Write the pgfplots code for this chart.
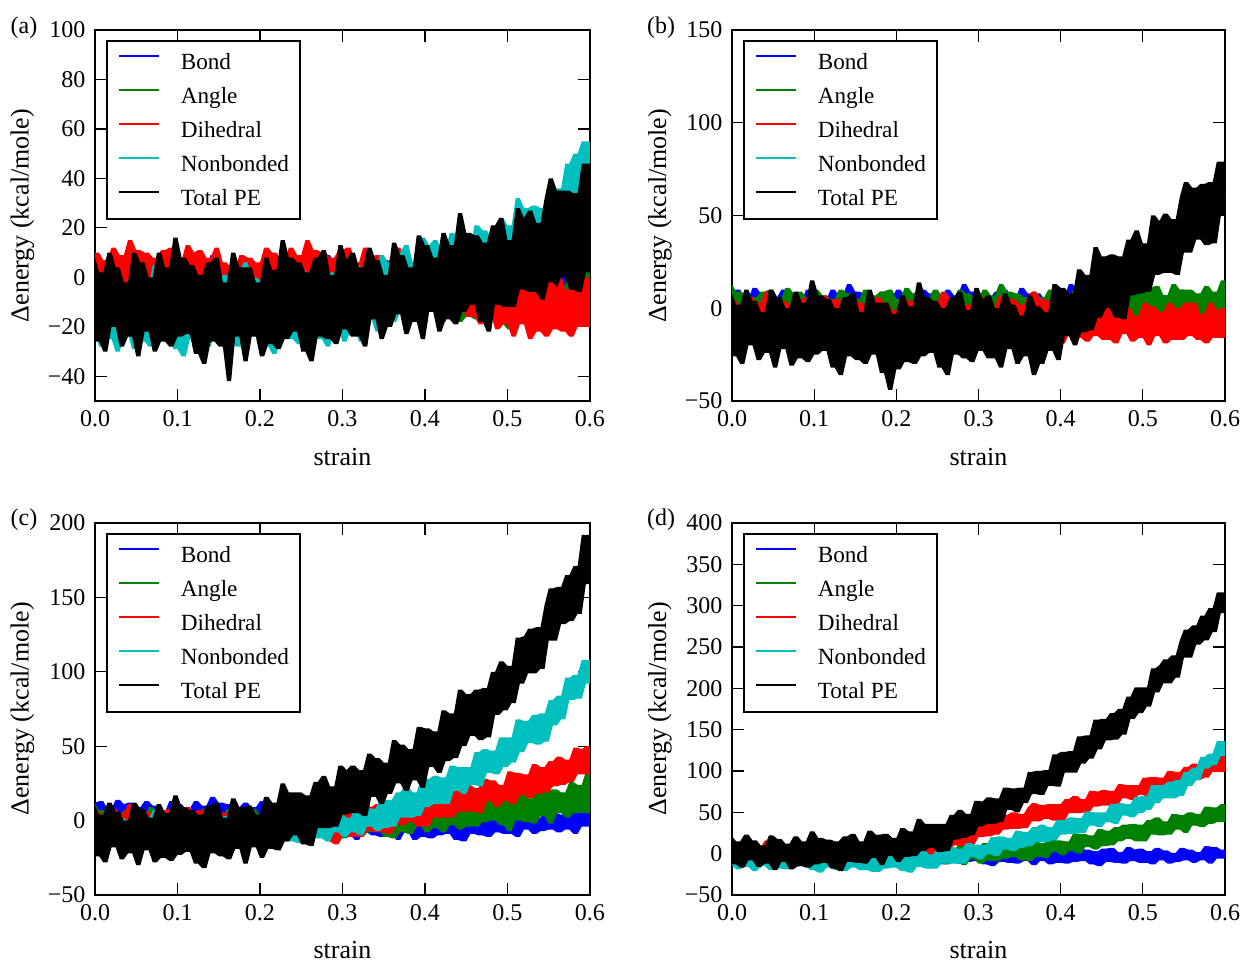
\documentclass[border=0pt]{standalone}
\usepackage{fontspec}
\setmainfont{Liberation Serif}
\usepackage{pgfplots}
\usepackage{pgfplotstable}
\usepgfplotslibrary{fillbetween}
\pgfplotsset{compat=1.18}
\definecolor{mB}{rgb}{0,0,1}
\definecolor{mG}{rgb}{0,0.5,0}
\definecolor{mR}{rgb}{1,0,0}
\definecolor{mC}{rgb}{0,0.75,0.75}
\newcommand{\fsT}{\fontsize{12}{14}\selectfont}
\newcommand{\fsL}{\fontsize{13}{15}\selectfont}
\newcommand{\fsG}{\fontsize{11.6}{13.5}\selectfont}

% each series: lower (l) and upper (h) edge of its noisy trace
\pgfplotstableread{
s Bl Bh Al Ah Dl Dh Nl Nh Tl Th
0.000 -9 5 -12 8 -9 10 -22 -4 -26 8
0.005 -9 6 -12 4 -4 10 -28 -4 -26 2
0.010 -10 6 -11 4 -4 7 -28 -8 -30 2
0.015 -10 2 -11 3 -8 7 -25 -8 -30 10
0.020 -11 2 -15 3 -8 12 -25 1 -20 10
0.025 -11 7 -15 1 -6 12 -30 1 -20 4
0.030 -8 7 -17 1 -6 9 -30 -2 -28 4
0.035 -8 4 -17 4 -7 9 -23 -2 -28 -2
0.040 -8 5 -12 4 -7 15 -23 -7 -24 -2
0.045 -10 5 -12 5 -5 15 -29 -7 -24 10
0.050 -10 2 -13 5 -5 11 -29 1 -32 10
0.055 -12 2 -13 0 -4 11 -26 1 -32 6
0.060 -12 6 -14 0 -4 10 -26 -4 -22 6
0.065 -8 6 -14 6 -8 10 -28 -4 -22 0
0.070 -8 3 -11 6 -8 8 -28 5 -30 0
0.075 -11 3 -11 3 -10 8 -25 5 -30 10
0.080 -11 1 -11 4 -10 11 -25 -1 -26 10
0.085 -9 1 -13 4 -5 11 -23 -1 -26 4
0.090 -9 6 -13 1 -5 12 -23 -2 -28 4
0.095 -13 6 -15 1 -6 12 -29 -2 -28 16
0.100 -13 4 -15 5 -6 7 -29 -5 -24 16
0.105 -8 4 -10 5 -7 7 -32 -5 -24 8
0.110 -8 2 -10 2 -7 13 -32 -1 -23 8
0.115 -12 2 -14 2 -4 13 -25 -1 -23 5
0.120 -12 6 -14 -1 -4 10 -25 1 -31 5
0.125 -10 6 -12 -1 -6 11 -26 1 -31 1
0.130 -10 3 -12 5 -6 11 -26 -7 -35 1
0.135 -11 3 -16 5 -6 8 -28 -7 -35 6
0.140 -11 9 -16 3 -8 8 -28 3 -26 6
0.145 -9 9 -11 3 -8 12 -23 3 -26 8
0.150 -9 5 -11 0 -4 12 -23 -1 -28 8
0.155 -8 5 -15 0 -4 6 -23 1 -28 -2
0.160 -8 4 -15 5 -10 6 -25 1 -42 -2
0.165 -12 4 -13 5 -10 3 -25 -4 -42 10
0.170 -12 2 -13 2 -8 3 -28 -4 -24 10
0.175 -14 2 -14 2 -8 9 -28 2 -24 4
0.180 -14 5 -14 4 -4 9 -28 6 -34 4
0.185 -10 5 -12 4 -4 8 -24 6 -34 4
0.190 -10 2 -12 5 -8 8 -24 0 -24 4
0.195 -12 2 -13 5 -8 6 -22 0 -24 -2
0.200 -12 6 -13 0 -5 6 -22 -1 -32 -2
0.205 -8 6 -14 0 -5 12 -28 -1 -32 8
0.210 -8 3 -14 6 -9 12 -28 -4 -27 8
0.215 -11 3 -11 6 -9 10 -31 -4 -27 3
0.220 -11 1 -11 3 -4 10 -31 0 -29 3
0.225 -9 1 -11 4 -4 7 -24 0 -29 15
0.230 -9 6 -13 4 -8 7 -24 2 -25 15
0.235 -13 6 -13 1 -8 12 -25 2 -25 8
0.240 -13 4 -15 1 -6 12 -25 -6 -22 8
0.245 -8 4 -15 5 -6 9 -27 -6 -22 6
0.250 -8 2 -10 5 -7 9 -27 3 -30 6
0.255 -12 2 -10 2 -7 15 -22 3 -30 2
0.260 -12 6 -14 2 -5 15 -22 -1 -34 2
0.265 -10 6 -14 -1 -5 11 -22 0 -34 8
0.270 -10 3 -12 -1 -4 11 -25 0 -24 8
0.275 -11 3 -12 5 -4 10 -25 -4 -24 11
0.280 -11 9 -16 5 -8 10 -28 -4 -25 11
0.285 -9 9 -16 3 -8 8 -28 2 -25 1
0.290 -9 5 -11 3 -10 8 -21 2 -27 1
0.295 -8 5 -11 0 -10 11 -21 -3 -27 13
0.300 -8 4 -15 0 -5 11 -26 -3 -21 13
0.305 -12 4 -15 5 -5 12 -26 -6 -21 7
0.310 -12 2 -13 5 -7 12 -21 -6 -24 10
0.315 -14 2 -13 2 -7 6 -21 5 -24 10
0.320 -14 5 -14 2 -8 6 -26 5 -24 4
0.325 -9 5 -14 8 -8 12 -26 3 -28 4
0.330 -9 6 -12 8 -5 12 -17 3 -28 12
0.335 -10 6 -12 4 -5 8 -17 0 -17 12
0.340 -10 2 -11 4 -8 9 -22 0 -17 7
0.345 -11 2 -11 3 -8 9 -22 9 -25 7
0.350 -11 7 -15 3 -8 6 -17 9 -25 1
0.355 -8 7 -15 1 -10 6 -17 6 -20 1
0.360 -8 4 -17 1 -10 9 -18 6 -20 14
0.365 -13 4 -17 4 -8 12 -18 10 -15 14
0.370 -13 4 -13 4 -8 12 -14 10 -15 9
0.375 -8 4 -13 1 -8 8 -14 13 -23 9
0.380 -8 2 -15 1 -7 8 -14 13 -23 4
0.385 -12 2 -15 5 -7 6 -14 6 -18 4
0.390 -12 6 -10 5 -12 6 -14 6 -18 17
0.395 -10 6 -10 2 -12 4 -14 16 -25 17
0.400 -10 3 -14 2 -14 4 -8 16 -25 13
0.405 -11 3 -14 -2 -14 6 -8 13 -14 13
0.410 -11 9 -13 -2 -10 6 -10 15 -14 8
0.415 -9 9 -13 4 -10 6 -10 15 -22 8
0.420 -9 5 -18 4 -12 6 -10 11 -22 18
0.425 -8 5 -18 1 -12 1 -12 11 -17 18
0.430 -8 4 -13 1 -14 1 -12 18 -17 13
0.435 -12 4 -13 -2 -14 6 -4 18 -19 13
0.440 -12 2 -18 -2 -12 6 -4 15 -19 26
0.445 -14 2 -18 2 -12 3 -8 15 -14 26
0.450 -14 5 -16 2 -16 3 -8 11 -14 18
0.455 -9 5 -16 -1 -16 3 -4 11 -11 18
0.460 -9 6 -17 -1 -16 -1 -4 21 -11 17
0.465 -10 6 -17 5 -19 -1 -10 21 -18 17
0.470 -10 2 -16 5 -19 2 -10 19 -18 14
0.475 -11 2 -16 0 -15 2 -1 19 -22 14
0.480 -11 7 -15 0 -15 -1 -1 16 -22 21
0.485 -8 7 -15 -1 -21 -1 -6 16 -11 21
0.490 -8 4 -19 -1 -21 -6 -6 24 -11 24
0.495 -8 5 -19 -3 -19 -6 -2 24 -12 24
0.500 -10 5 -21 -3 -19 1 -2 21 -12 15
0.505 -10 3 -21 0 -24 1 -2 21 -12 15
0.510 -11 3 -16 0 -24 -2 -2 32 -12 28
0.515 -11 7 -16 1 -19 -2 3 32 -5 28
0.520 -6 7 -16 1 -19 -5 3 28 -5 24
0.525 -6 4 -16 -3 -25 -5 7 28 -6 27
0.530 -10 4 -17 -3 -25 1 7 29 -6 27
0.535 -10 2 -17 3 -22 1 3 29 -6 22
0.540 -8 2 -14 3 -22 -3 3 28 -9 22
0.545 -8 8 -14 0 -24 -3 2 28 -9 32
0.550 -5 8 -19 0 -24 0 2 36 -2 40
0.555 -5 6 -19 0 -21 0 12 36 -2 40
0.560 -9 6 -14 0 -21 1 12 36 -4 35
0.565 -9 3 -14 -3 -22 1 13 36 0 35
0.570 -7 3 -18 -3 -22 -5 13 46 0 35
0.575 -7 9 -18 2 -24 -5 25 46 -5 35
0.580 -10 9 -16 2 -24 2 25 50 -5 34
0.585 -10 7 -16 -1 -20 2 23 50 -6 34
0.590 -5 7 -17 -1 -20 -2 23 55 -6 46
0.595 -5 4 -17 5 -20 0 31 55 2 46
0.600 -5 4 -17 5 -20 0 31 55 2 46
}\dA

\pgfplotstableread{
s Bl Bh Al Ah Dl Dh Nl Nh Tl Th
0.000 -7 9 -5 13 -17 4 -13 -6 -26 8
0.005 -7 10 -5 9 -12 4 -15 -6 -26 2
0.010 -8 10 -4 9 -12 1 -15 -8 -30 2
0.015 -8 5 -4 8 -16 1 -14 -8 -30 10
0.020 -9 5 -8 8 -16 6 -14 -4 -20 10
0.025 -9 11 -8 6 -14 6 -17 -4 -20 4
0.030 -6 11 -10 6 -14 3 -17 -5 -28 4
0.035 -6 8 -10 9 -15 3 -14 -5 -28 -2
0.040 -8 9 -5 9 -15 9 -14 -7 -24 -2
0.045 -8 9 -5 10 -13 9 -16 -7 -24 10
0.050 -8 6 -6 10 -13 5 -16 -4 -32 10
0.055 -10 6 -6 5 -12 5 -15 -4 -32 6
0.060 -10 10 -7 5 -12 4 -15 -6 -22 6
0.065 -5 10 -7 11 -16 4 -15 -6 -22 0
0.070 -5 7 -4 11 -16 2 -15 -3 -31 0
0.075 -9 7 -4 8 -18 2 -15 -3 -31 9
0.080 -9 4 -6 9 -18 5 -15 -6 -27 9
0.085 -7 4 -6 9 -13 5 -15 -6 -27 3
0.090 -7 10 -6 6 -13 6 -15 -6 -29 3
0.095 -11 10 -8 6 -14 6 -17 -6 -29 15
0.100 -11 8 -8 10 -14 1 -17 -7 -25 15
0.105 -6 8 -3 10 -15 1 -18 -7 -25 7
0.110 -6 5 -3 7 -15 7 -18 -6 -23 7
0.115 -10 5 -7 7 -12 7 -15 -6 -23 5
0.120 -10 10 -7 5 -12 4 -15 -6 -32 5
0.125 -8 10 -5 5 -14 5 -17 -6 -32 0
0.130 -8 7 -5 10 -14 5 -17 -9 -36 0
0.135 -9 7 -9 10 -14 2 -17 -9 -36 6
0.140 -9 13 -9 8 -16 2 -17 -5 -26 6
0.145 -7 13 -4 8 -16 6 -16 -5 -26 8
0.150 -7 9 -4 5 -11 6 -16 -7 -28 8
0.155 -6 9 -8 5 -11 3 -17 -7 -28 -2
0.160 -6 8 -8 10 -15 3 -17 -7 -30 -2
0.165 -10 8 -6 10 -15 -1 -17 -8 -30 10
0.170 -10 6 -6 7 -13 -1 -19 -8 -25 10
0.175 -12 6 -7 7 -13 6 -19 -7 -25 3
0.180 -12 9 -7 9 -11 6 -17 -5 -35 3
0.185 -8 9 -5 9 -11 3 -17 -5 -35 3
0.190 -8 6 -5 10 -15 3 -17 -8 -44 3
0.195 -10 6 -6 10 -15 -1 -17 -8 -44 -3
0.200 -10 10 -6 5 -13 -1 -17 -8 -33 -3
0.205 -5 10 -7 5 -13 6 -19 -8 -33 7
0.210 -5 7 -7 11 -17 6 -19 -9 -29 7
0.215 -9 7 -4 11 -17 4 -20 -9 -29 1
0.220 -9 4 -4 8 -12 4 -20 -7 -30 1
0.225 -7 4 -6 9 -12 1 -16 -7 -30 14
0.230 -7 10 -6 9 -16 1 -16 -6 -26 14
0.235 -11 10 -6 6 -16 6 -17 -6 -26 6
0.240 -11 8 -8 6 -14 6 -17 -9 -24 6
0.245 -6 8 -8 10 -14 3 -17 -9 -24 4
0.250 -6 5 -3 10 -15 3 -17 -5 -32 4
0.255 -10 5 -3 7 -15 9 -16 -5 -32 0
0.260 -10 10 -7 7 -13 9 -16 -7 -36 0
0.265 -8 10 -7 5 -13 5 -16 -7 -36 6
0.270 -8 7 -5 5 -12 5 -16 -7 -25 6
0.275 -9 7 -5 10 -12 4 -17 -7 -25 9
0.280 -9 13 -9 10 -16 4 -17 -7 -27 9
0.285 -7 13 -9 8 -16 2 -17 -5 -27 -1
0.290 -7 9 -4 8 -18 2 -14 -5 -29 -1
0.295 -6 9 -4 5 -18 5 -14 -7 -29 11
0.300 -6 8 -8 5 -13 5 -16 -7 -23 11
0.305 -10 8 -8 10 -13 6 -16 -9 -23 5
0.310 -10 6 -6 10 -14 6 -15 -9 -27 7
0.315 -12 6 -6 7 -14 1 -15 -5 -27 7
0.320 -12 9 -7 7 -15 1 -19 -5 -27 0
0.325 -7 9 -7 13 -15 7 -19 -7 -32 0
0.330 -7 10 -5 13 -12 7 -16 -7 -32 8
0.335 -8 10 -5 9 -12 4 -16 -9 -22 8
0.340 -8 5 -4 9 -14 5 -18 -9 -22 2
0.345 -9 5 -4 8 -14 5 -18 -6 -30 2
0.350 -9 11 -8 8 -14 2 -17 -6 -30 -4
0.355 -6 11 -8 6 -16 2 -17 -8 -26 -4
0.360 -6 8 -10 6 -16 6 -18 -8 -26 7
0.365 -11 8 -10 9 -13 9 -18 -8 -36 7
0.370 -11 8 -6 9 -13 9 -17 -8 -36 1
0.375 -6 8 -6 6 -13 5 -17 -6 -30 1
0.380 -6 5 -8 6 -12 5 -15 -6 -30 -2
0.385 -10 5 -8 10 -12 4 -15 -6 -23 -2
0.390 -10 10 -4 10 -16 4 -12 -6 -23 13
0.395 -8 10 -4 7 -16 2 -12 1 -28 13
0.400 -8 7 -7 7 -19 2 -9 1 -28 11
0.405 -9 7 -7 5 -19 4 -9 2 -15 11
0.410 -9 13 -5 5 -14 4 -5 3 -15 8
0.415 -7 13 -5 10 -14 4 -5 3 -20 8
0.420 -7 9 -9 10 -16 4 -5 5 -20 21
0.425 -6 9 -9 8 -16 -1 -3 5 -13 21
0.430 -6 8 -4 8 -18 -1 -3 10 -13 18
0.435 -10 8 -4 5 -18 4 3 10 -12 18
0.440 -10 6 -8 5 -15 4 3 11 -12 33
0.445 -12 6 -8 10 -15 1 4 11 -5 33
0.450 -12 9 -6 10 -17 2 4 12 -5 28
0.455 -7 9 -6 8 -17 2 8 12 0 28
0.460 -7 10 -6 8 -17 -1 8 19 0 29
0.465 -8 10 -6 14 -19 -1 8 19 -5 29
0.470 -8 5 -4 14 -19 3 8 21 -5 28
0.475 -9 5 -4 10 -14 3 14 21 -6 28
0.480 -9 11 -3 10 -14 0 14 22 -6 37
0.485 -6 11 -3 10 -18 0 15 22 7 37
0.490 -6 8 -6 10 -18 -4 15 28 7 42
0.495 -8 9 -6 8 -16 -4 19 28 8 42
0.500 -8 9 -8 8 -16 3 19 29 8 35
0.505 -8 6 -8 11 -20 3 22 29 9 35
0.510 -10 6 -3 11 -20 1 22 36 9 50
0.515 -10 10 -3 12 -15 1 26 36 18 50
0.520 -5 10 -4 12 -15 -2 26 36 18 47
0.525 -5 7 -4 7 -19 -2 29 36 19 51
0.530 -9 7 -5 7 -19 3 29 40 19 51
0.535 -9 4 -5 13 -17 3 30 40 19 48
0.540 -7 4 -2 13 -17 0 30 42 18 48
0.545 -7 10 -2 10 -17 0 33 42 18 60
0.550 -5 10 -7 10 -17 3 33 47 30 68
0.555 -5 7 -7 10 -15 3 39 47 30 68
0.560 -9 7 -2 10 -15 3 39 51 30 65
0.565 -9 4 -2 8 -17 3 43 51 37 65
0.570 -7 4 -6 8 -17 -3 43 57 37 67
0.575 -7 10 -6 12 -19 -3 51 57 34 67
0.580 -11 10 -4 12 -19 3 51 60 34 68
0.585 -11 8 -4 9 -16 3 54 60 35 68
0.590 -6 8 -5 9 -16 -1 54 63 35 79
0.595 -6 5 -5 15 -16 0 60 63 50 79
0.600 -6 5 -5 15 -16 0 60 63 50 79
}\dB

\pgfplotstableread{
s Bl Bh Al Ah Dl Dh Nl Nh Tl Th
0.000 -6 12 -9 11 -15 6 -11 1 -24 10
0.005 -6 13 -9 7 -10 6 -15 1 -24 4
0.010 -7 13 -8 7 -10 3 -15 -2 -28 4
0.015 -7 8 -8 6 -14 3 -13 -2 -28 12
0.020 -8 8 -12 6 -14 8 -13 4 -18 12
0.025 -8 14 -12 4 -12 8 -17 4 -18 6
0.030 -5 14 -14 4 -12 5 -17 2 -26 6
0.035 -5 11 -14 7 -13 5 -12 2 -26 0
0.040 -7 12 -9 7 -13 11 -12 -1 -22 0
0.045 -7 12 -9 8 -11 11 -16 -1 -22 12
0.050 -7 9 -10 8 -11 7 -16 4 -30 12
0.055 -9 9 -10 3 -10 7 -14 4 -30 8
0.060 -9 13 -11 3 -10 6 -14 1 -20 8
0.065 -4 13 -11 9 -14 6 -15 1 -20 2
0.070 -4 10 -8 9 -14 4 -15 7 -28 2
0.075 -8 10 -8 6 -16 4 -13 7 -28 11
0.080 -8 6 -8 7 -16 7 -13 3 -25 11
0.085 -6 6 -10 7 -11 7 -12 3 -25 5
0.090 -6 13 -10 4 -11 8 -12 2 -27 5
0.095 -10 13 -12 4 -12 8 -16 2 -27 17
0.100 -10 11 -12 8 -12 3 -16 0 -23 17
0.105 -5 11 -7 8 -13 3 -18 0 -23 9
0.110 -5 8 -7 5 -13 9 -18 3 -21 9
0.115 -9 8 -11 5 -10 9 -13 3 -21 7
0.120 -9 13 -11 2 -10 6 -13 4 -29 7
0.125 -7 13 -9 2 -12 7 -14 4 -29 4
0.130 -7 10 -9 8 -12 7 -14 -1 -32 4
0.135 -8 10 -13 8 -12 4 -15 -1 -32 10
0.140 -8 16 -13 6 -14 4 -15 5 -22 10
0.145 -6 16 -8 6 -14 8 -12 5 -22 12
0.150 -6 12 -8 3 -9 8 -12 2 -24 12
0.155 -5 12 -12 3 -9 5 -14 3 -24 2
0.160 -5 11 -12 8 -13 5 -14 3 -26 2
0.165 -9 11 -10 8 -13 1 -14 0 -26 15
0.170 -9 9 -10 5 -11 1 -16 0 -19 15
0.175 -11 9 -11 5 -11 8 -16 4 -19 9
0.180 -11 12 -11 7 -9 8 -16 7 -29 9
0.185 -7 12 -9 7 -9 5 -13 7 -29 10
0.190 -7 9 -9 8 -13 5 -13 3 -18 10
0.195 -9 9 -10 8 -13 1 -12 3 -18 4
0.200 -9 13 -10 3 -11 1 -12 2 -25 4
0.205 -4 13 -11 3 -11 8 -16 2 -25 16
0.210 -4 10 -11 9 -15 8 -16 0 -19 16
0.215 -8 10 -8 9 -15 6 -18 0 -19 12
0.220 -8 6 -8 6 -10 6 -18 3 -20 12
0.225 -6 6 -8 7 -10 3 -13 3 -20 25
0.230 -6 13 -10 7 -14 3 -13 4 -14 25
0.235 -10 13 -10 4 -14 8 -14 4 -14 19
0.240 -10 11 -12 4 -12 8 -14 -1 -10 19
0.245 -5 11 -12 8 -12 5 -15 -1 -10 19
0.250 -5 6 -7 8 -13 5 -15 5 -16 19
0.255 -8 6 -7 5 -13 11 -11 5 -16 17
0.260 -8 10 -11 5 -11 11 -11 3 -17 17
0.265 -6 10 -11 2 -11 7 -12 4 -17 26
0.270 -6 6 -9 2 -10 7 -12 4 -5 26
0.275 -8 6 -9 8 -10 6 -12 2 -5 30
0.280 -8 12 -13 8 -14 6 -14 2 -5 30
0.285 -7 12 -13 6 -14 4 -14 7 -5 23
0.290 -7 7 -8 6 -16 4 -8 7 -4 23
0.295 -6 7 -8 3 -16 7 -8 4 -4 37
0.300 -6 6 -12 3 -11 7 -11 4 4 37
0.305 -10 6 -12 8 -11 9 -11 2 4 34
0.310 -10 3 -10 8 -11 9 -8 2 5 37
0.315 -13 3 -10 5 -11 5 -8 10 5 37
0.320 -13 6 -11 5 -11 5 -10 10 5 34
0.325 -8 6 -11 11 -11 11 -10 9 3 34
0.330 -8 7 -8 11 -7 11 -4 9 3 45
0.335 -10 7 -8 8 -7 9 -4 8 16 45
0.340 -10 2 -7 8 -8 11 -7 8 16 42
0.345 -11 2 -7 7 -8 11 -7 14 11 42
0.350 -11 7 -11 7 -8 9 -5 14 11 39
0.355 -8 7 -11 5 -9 9 -5 14 18 39
0.360 -8 4 -12 5 -9 14 -4 14 18 54
0.365 -13 4 -12 9 -3 18 -4 19 25 54
0.370 -13 4 -8 9 -3 18 2 19 25 51
0.375 -8 4 -8 6 -3 15 2 23 20 51
0.380 -8 0 -9 6 -1 15 2 23 20 48
0.385 -13 0 -9 11 -1 16 2 19 27 48
0.390 -13 5 -4 11 -4 16 3 19 27 63
0.395 -11 5 -4 8 -4 15 3 28 22 63
0.400 -11 2 -8 8 -4 15 9 28 22 62
0.405 -12 2 -8 6 -4 19 9 28 36 62
0.410 -12 8 -5 6 2 19 11 30 36 60
0.415 -10 8 -5 12 2 21 11 30 32 60
0.420 -10 4 -8 12 2 21 11 29 32 74
0.425 -9 4 -8 11 2 17 11 29 40 74
0.430 -9 4 -3 11 2 17 11 37 40 72
0.435 -13 4 -3 8 2 24 20 37 42 72
0.440 -13 2 -6 8 6 24 20 36 42 88
0.445 -14 2 -6 14 6 22 18 36 50 88
0.450 -14 5 -4 14 6 24 18 36 50 85
0.455 -9 5 -4 12 6 24 24 36 57 85
0.460 -9 6 -4 12 6 22 24 46 57 88
0.465 -10 6 -4 14 5 22 23 46 54 88
0.470 -10 2 -1 14 5 28 23 48 54 89
0.475 -11 2 -1 15 13 28 32 48 56 89
0.480 -11 7 0 15 13 27 32 47 56 100
0.485 -8 7 0 14 9 27 31 47 71 100
0.490 -8 5 -3 14 9 24 31 56 71 107
0.495 -9 6 -3 13 13 24 36 56 74 107
0.500 -9 6 -7 13 13 33 36 56 74 104
0.505 -9 3 -7 17 11 33 39 56 79 104
0.510 -11 3 0 17 11 32 39 68 79 123
0.515 -11 7 0 20 17 32 46 68 92 123
0.520 -6 7 -1 20 17 31 46 67 92 124
0.525 -6 5 -1 15 15 31 52 67 99 129
0.530 -9 5 -2 15 15 38 52 71 99 129
0.535 -9 2 -2 22 18 38 51 71 99 130
0.540 -7 2 3 22 18 36 51 72 102 130
0.545 -7 8 3 20 19 36 53 72 102 145
0.550 -6 8 -2 20 19 40 53 81 121 156
0.555 -6 5 -2 21 23 40 64 81 121 156
0.560 -8 5 5 21 23 43 64 84 121 157
0.565 -8 4 5 19 24 43 68 84 132 157
0.570 -6 4 2 19 24 41 68 96 132 165
0.575 -6 9 2 26 26 41 81 96 134 165
0.580 -9 9 5 26 26 49 81 98 134 171
0.585 -9 8 5 24 31 49 82 98 139 171
0.590 -4 8 5 24 31 48 82 108 139 192
0.595 -4 6 5 33 31 50 92 108 159 192
0.600 -4 6 5 33 31 50 92 108 159 192
}\dC

\pgfplotstableread{
s Bl Bh Al Ah Dl Dh Nl Nh Tl Th
0.000 -10 6 -11 13 -13 10 -14 0 -13 21
0.005 -10 7 -11 8 -7 10 -19 0 -13 15
0.010 -11 7 -10 8 -7 6 -19 -3 -17 15
0.015 -11 2 -10 7 -12 6 -16 -3 -17 23
0.020 -12 2 -15 7 -12 12 -16 4 -8 23
0.025 -12 8 -15 4 -10 12 -21 4 -8 16
0.030 -9 8 -17 4 -10 8 -21 2 -16 16
0.035 -9 5 -17 8 -11 8 -15 2 -16 10
0.040 -11 6 -11 8 -11 16 -15 -2 -12 10
0.045 -11 6 -11 9 -8 16 -20 -2 -12 22
0.050 -11 3 -13 9 -8 11 -20 4 -20 22
0.055 -13 3 -13 3 -7 11 -18 4 -20 18
0.060 -13 7 -14 3 -7 10 -18 0 -10 18
0.065 -8 7 -14 10 -12 10 -19 0 -10 12
0.070 -8 4 -10 10 -12 7 -19 8 -19 12
0.075 -12 4 -10 7 -14 7 -16 8 -19 21
0.080 -12 1 -10 8 -14 11 -16 3 -15 21
0.085 -10 1 -13 8 -8 11 -15 3 -15 15
0.090 -10 7 -13 4 -8 12 -15 2 -17 15
0.095 -14 7 -15 4 -10 12 -20 2 -17 27
0.100 -14 5 -15 9 -10 6 -20 -2 -13 27
0.105 -9 5 -9 9 -11 6 -23 -2 -13 19
0.110 -9 2 -9 5 -11 13 -23 2 -11 19
0.115 -13 2 -14 5 -7 13 -17 2 -11 17
0.120 -13 7 -14 2 -7 10 -17 3 -18 17
0.125 -11 7 -11 2 -10 11 -20 3 -18 15
0.130 -11 4 -11 9 -10 11 -20 -4 -21 15
0.135 -12 4 -16 9 -10 7 -21 -4 -21 21
0.140 -12 10 -16 7 -12 7 -21 3 -10 21
0.145 -10 10 -10 7 -12 12 -17 3 -10 24
0.150 -10 6 -10 3 -6 12 -17 0 -11 24
0.155 -9 6 -15 3 -6 8 -20 1 -11 15
0.160 -9 5 -15 9 -11 8 -20 1 -12 15
0.165 -13 5 -13 9 -11 5 -20 -3 -12 28
0.170 -13 3 -13 5 -8 5 -22 -3 -5 28
0.175 -15 3 -14 5 -8 12 -22 2 -5 23
0.180 -15 6 -14 8 -6 12 -22 6 -14 23
0.185 -11 6 -11 8 -6 8 -18 6 -14 24
0.190 -11 3 -11 9 -11 8 -18 1 -3 24
0.195 -13 3 -13 9 -11 5 -17 1 -3 19
0.200 -13 7 -13 3 -7 5 -17 0 -10 19
0.205 -8 7 -14 3 -7 13 -21 0 -10 31
0.210 -8 4 -14 10 -11 13 -21 -2 -4 31
0.215 -12 4 -10 10 -11 12 -23 -2 -4 27
0.220 -12 1 -10 7 -4 12 -23 3 -3 27
0.225 -10 1 -10 8 -4 10 -16 3 -3 42
0.230 -10 7 -13 8 -8 10 -16 4 3 42
0.235 -14 7 -13 4 -8 17 -18 4 3 36
0.240 -14 5 -15 4 -5 17 -18 -1 7 36
0.245 -9 5 -15 9 -5 14 -18 -1 7 36
0.250 -9 2 -9 9 -3 14 -18 7 2 36
0.255 -13 2 -9 6 -3 26 -12 7 2 36
0.260 -13 7 -13 6 4 26 -12 6 3 36
0.265 -11 7 -13 3 4 25 -12 8 3 47
0.270 -11 4 -9 3 10 25 -12 8 17 47
0.275 -12 4 -9 11 10 29 -12 6 17 53
0.280 -12 10 -14 11 9 29 -12 6 19 53
0.285 -10 10 -14 9 9 30 -12 13 19 48
0.290 -10 6 -7 9 11 30 -4 13 22 48
0.295 -9 6 -7 6 11 38 -4 11 22 64
0.300 -9 5 -12 6 20 38 -7 11 33 64
0.305 -13 5 -12 13 20 42 -7 11 33 63
0.310 -13 3 -9 13 21 42 -1 11 36 68
0.315 -15 3 -9 9 21 38 -1 20 36 68
0.320 -15 6 -9 9 23 38 -3 20 36 67
0.325 -10 6 -9 18 23 48 -3 21 38 67
0.330 -10 7 -6 18 29 48 5 21 38 80
0.335 -11 7 -6 13 29 47 5 19 53 80
0.340 -11 2 -4 13 30 50 3 19 53 79
0.345 -12 2 -4 13 30 50 3 28 50 79
0.350 -12 8 -8 13 30 48 7 28 50 80
0.355 -9 8 -8 11 31 48 7 26 61 80
0.360 -9 5 -9 11 31 56 9 26 61 99
0.365 -14 5 -9 16 39 61 9 32 72 99
0.370 -14 5 -4 16 39 61 14 32 72 100
0.375 -9 5 -4 13 39 59 14 35 71 100
0.380 -9 2 -5 13 42 59 14 35 71 101
0.385 -13 2 -5 19 42 60 14 32 82 101
0.390 -13 7 2 19 40 60 16 32 82 120
0.395 -11 7 2 16 40 60 16 41 81 120
0.400 -11 4 -2 16 40 60 23 41 81 123
0.405 -12 4 -2 15 40 66 23 41 98 123
0.410 -12 10 3 15 49 66 24 44 98 124
0.415 -10 10 3 24 49 70 24 44 98 124
0.420 -10 6 0 24 49 70 24 43 98 142
0.425 -9 6 0 24 49 66 25 43 109 142
0.430 -9 5 8 24 50 66 25 51 109 143
0.435 -13 5 8 22 50 76 34 51 115 143
0.440 -13 3 5 22 57 76 34 50 115 162
0.445 -15 3 5 30 57 75 32 50 126 162
0.450 -15 6 9 30 58 77 32 50 126 163
0.455 -10 6 9 28 58 77 38 50 137 163
0.460 -10 7 10 28 58 76 38 60 137 170
0.465 -11 7 10 32 59 76 36 60 138 170
0.470 -11 2 15 32 59 84 36 61 138 175
0.475 -12 2 15 35 67 84 46 61 144 175
0.480 -12 8 18 35 67 83 46 60 144 190
0.485 -9 8 18 36 65 83 44 60 163 190
0.490 -9 5 15 36 65 83 44 69 163 201
0.495 -11 6 15 35 71 83 49 69 170 201
0.500 -11 6 15 35 71 92 49 70 170 201
0.505 -11 3 15 41 69 92 53 70 178 201
0.510 -13 3 23 41 69 93 53 83 178 224
0.515 -13 7 23 44 77 93 61 83 195 224
0.520 -8 7 22 44 77 92 61 83 195 228
0.525 -8 4 22 39 75 92 67 83 206 235
0.530 -12 4 23 39 75 100 67 87 206 235
0.535 -12 1 23 48 79 100 67 87 206 240
0.540 -10 1 29 48 79 99 67 89 213 240
0.545 -10 7 29 47 81 99 70 89 213 258
0.550 -8 7 25 47 81 105 70 99 237 271
0.555 -8 5 25 50 88 105 82 99 237 271
0.560 -11 5 34 50 88 109 82 104 237 276
0.565 -11 2 34 48 89 109 89 104 253 276
0.570 -8 2 32 48 89 107 89 117 253 288
0.575 -8 9 32 57 92 107 103 117 258 288
0.580 -12 9 36 57 92 118 103 121 258 297
0.585 -12 8 36 56 99 118 107 121 268 297
0.590 -6 8 38 56 99 118 107 136 268 316
0.595 -6 5 38 60 99 121 118 136 291 316
0.600 -6 5 38 60 99 121 118 136 291 316
}\dD

% a noisy trace is drawn as the filled band between its lower and upper edge
\newcommand{\band}[4]{%
  \addplot[name path=#3, draw=none, forget plot] table[x=s,y=#3]{#1};
  \addplot[name path=#4, draw=none, forget plot] table[x=s,y=#4]{#1};
  \addplot[fill=#2, draw=none, forget plot] fill between[of=#4 and #3];
}
\newcommand{\plotall}[1]{%
  \band{#1}{mB}{Bl}{Bh}
  \band{#1}{mG}{Al}{Ah}
  \band{#1}{mR}{Dl}{Dh}
  \band{#1}{mC}{Nl}{Nh}
  \band{#1}{black}{Tl}{Th}
  \addlegendimage{mB}\addlegendentry{Bond}
  \addlegendimage{mG}\addlegendentry{Angle}
  \addlegendimage{mR}\addlegendentry{Dihedral}
  \addlegendimage{mC}\addlegendentry{Nonbonded}
  \addlegendimage{black}\addlegendentry{Total PE}
}

\pgfplotsset{
  panel/.style={
    scale only axis,
    xmin=0, xmax=0.6,
    xtick={0,0.1,0.2,0.3,0.4,0.5,0.6},
    xticklabels={0.0,0.1,0.2,0.3,0.4,0.5,0.6},
    tick align=inside,
    major tick length=6pt,
    minor tick num=0,
    every tick/.style={black, line width=0.6pt},
    axis line style={line width=1pt},
    tick label style={font=\fsT},
    xticklabel style={yshift=-1.3pt},
    yticklabel style={xshift=-1.3pt},
    xlabel={strain},
    ylabel={Δenergy (kcal/mole)},
    legend cell align=left,
    legend style={at={(0,1)}, anchor=north west, xshift=5.5pt, yshift=-5pt,
      draw=black, line width=0.9pt, fill=white, font=\fsG,
      inner xsep=5.5pt, inner ysep=4pt, row sep=4pt, column sep=10.5pt,
      nodes={inner xsep=0pt, inner ysep=0pt, text height=10.5pt, text depth=2.5pt}},
    legend image code/.code={\path (0pt,3pt) -- (20pt,3pt); \draw[#1, line width=1pt] (2.5pt,3pt) -- (20pt,3pt);},
  },
}

\begin{document}
\begin{tikzpicture}
\begin{axis}[panel, at={(47.5pt,283pt)}, anchor=south west, width=247.5pt, height=185.5pt,
  ymin=-50, ymax=100, ytick={-40,-20,0,20,40,60,80,100},
  yticklabels={−40,−20,0,20,40,60,80,100},
  every axis y label/.style={at={(axis description cs:-0.1465,0.5)}, rotate=90, anchor=center, font=\fsL},
  every axis x label/.style={at={(axis description cs:0.5,-0.151)}, anchor=center, font=\fsL}]
\plotall{\dA}
\end{axis}
\begin{axis}[panel, at={(366pt,283pt)}, anchor=south west, width=246.5pt, height=185.5pt,
  ymin=-50, ymax=150, ytick={-50,0,50,100,150},
  yticklabels={−50,0,50,100,150},
  every axis y label/.style={at={(axis description cs:-0.146,0.5)}, rotate=90, anchor=center, font=\fsL},
  every axis x label/.style={at={(axis description cs:0.5,-0.151)}, anchor=center, font=\fsL}]
\plotall{\dB}
\end{axis}
\begin{axis}[panel, at={(47.5pt,36pt)}, anchor=south west, width=247.5pt, height=186pt,
  ymin=-50, ymax=200, ytick={-50,0,50,100,150,200},
  yticklabels={−50,0,50,100,150,200},
  every axis y label/.style={at={(axis description cs:-0.1465,0.5)}, rotate=90, anchor=center, font=\fsL},
  every axis x label/.style={at={(axis description cs:0.5,-0.148)}, anchor=center, font=\fsL}]
\plotall{\dC}
\end{axis}
\begin{axis}[panel, at={(366pt,36pt)}, anchor=south west, width=246.5pt, height=186pt,
  ymin=-50, ymax=400, ytick={-50,0,50,100,150,200,250,300,350,400},
  yticklabels={−50,0,50,100,150,200,250,300,350,400},
  every axis y label/.style={at={(axis description cs:-0.146,0.5)}, rotate=90, anchor=center, font=\fsL},
  every axis x label/.style={at={(axis description cs:0.5,-0.148)}, anchor=center, font=\fsL}]
\plotall{\dD}
\end{axis}
\node[font=\fsT] at (12pt,469.5pt) {(a)};
\node[font=\fsT] at (330.5pt,469.5pt) {(b)};
\node[font=\fsT] at (12pt,223.5pt) {(c)};
\node[font=\fsT] at (330.5pt,223.5pt) {(d)};
\pgfresetboundingbox
\path[use as bounding box] (0,0) rectangle (621pt,483.5pt);
\end{tikzpicture}
\end{document}
